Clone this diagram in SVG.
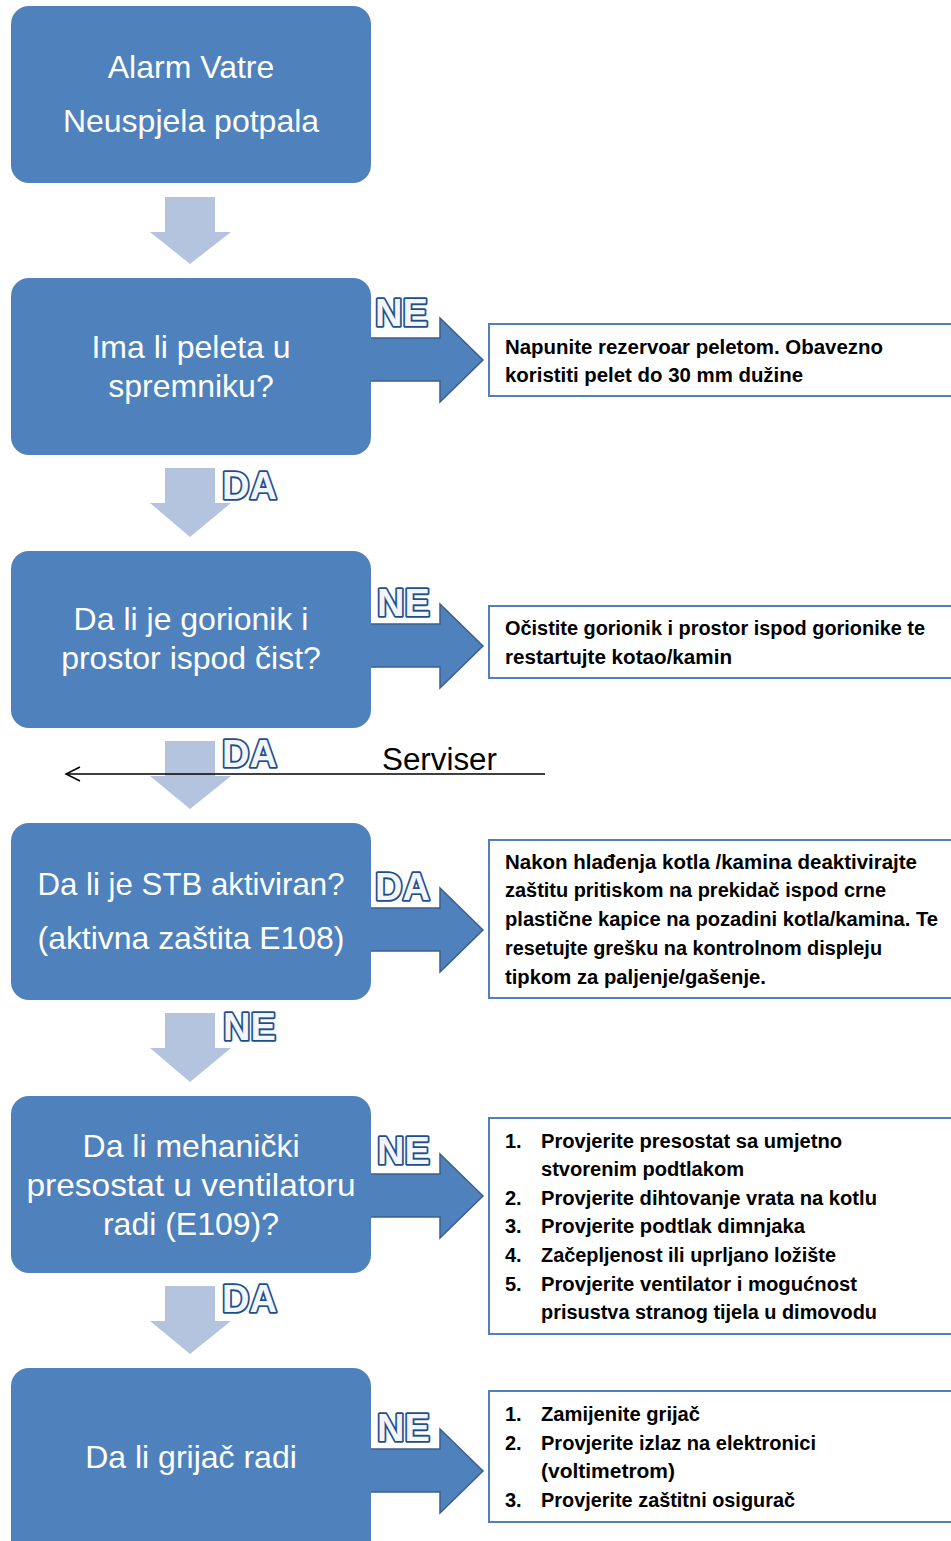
<svg xmlns="http://www.w3.org/2000/svg" width="951" height="1541" viewBox="0 0 951 1541">
<style>
.box{fill:#4F81BD}
.bt{font-family:"Liberation Sans",Arial,sans-serif;font-size:32px;fill:#fff;text-anchor:middle}
.down{fill:#B4C4DF}
.right{fill:#4F81BD;stroke:#3A5F8E;stroke-width:1.5}
.lbl{font-family:"Liberation Sans",Arial,sans-serif;font-weight:bold;font-size:38px;fill:#F2F5FA;stroke:#1F4E8C;stroke-width:3.6;stroke-linejoin:round;paint-order:stroke}
.tb{fill:#fff;stroke:#4F81BD;stroke-width:2}
.tt{font-family:"Liberation Sans",Arial,sans-serif;font-weight:bold;font-size:20px;fill:#000}
</style>
<rect width="951" height="1541" fill="#fff"/>

<g id="connectors">
  <path class="down" d="M165,197H215V232H231L190,264L150,232H165Z"/>
  <path class="down" d="M165,468H215V503H231L190,537L150,503H165Z"/>
  <path class="down" d="M165,741H215V776H231L190,809L150,776H165Z"/>
  <path class="down" d="M165,1013H215V1048H231L190,1082L150,1048H165Z"/>
  <path class="down" d="M165,1286H215V1321H231L190,1354L150,1321H165Z"/>
  <path class="right" d="M369,338H440V318L483,360L440,402V381H369Z"/>
  <path class="right" d="M369,624H440V604L483,646L440,688V667H369Z"/>
  <path class="right" d="M369,908H440V888L483,930L440,972V951H369Z"/>
  <path class="right" d="M369,1174H440V1154L483,1196L440,1238V1217H369Z"/>
  <path class="right" d="M369,1449H440V1429L483,1471L440,1513V1492H369Z"/>
  <g id="serviser">
    <line x1="66" y1="774" x2="545" y2="774" stroke="#000" stroke-width="1.5"/>
    <path d="M80,767L66,774L80,781" fill="none" stroke="#000" stroke-width="1.5"/>
    <text x="382" y="770" font-family="'Liberation Sans',Arial,sans-serif" font-size="31" fill="#000" textLength="115" lengthAdjust="spacingAndGlyphs">Serviser</text>
  </g>
  <text class="lbl" x="222" y="499">DA</text>
  <text class="lbl" x="222" y="767">DA</text>
  <text class="lbl" x="223" y="1040">NE</text>
  <text class="lbl" x="222" y="1312">DA</text>
  <text class="lbl" x="375" y="326">NE</text>
  <text class="lbl" x="377" y="616">NE</text>
  <text class="lbl" x="375" y="900">DA</text>
  <text class="lbl" x="377" y="1164">NE</text>
  <text class="lbl" x="377" y="1441">NE</text>
</g>

<g id="n1">
  <rect class="box" x="11" y="6" width="360" height="177" rx="18"/>
  <text class="bt" x="191" y="78">Alarm Vatre</text>
  <text class="bt" x="191" y="132">Neuspjela potpala</text>
</g>
<g id="n2">
  <rect class="box" x="11" y="278" width="360" height="177" rx="18"/>
  <text class="bt" x="191" y="358">Ima li peleta u</text>
  <text class="bt" x="191" y="397">spremniku?</text>
</g>
<g id="n3">
  <rect class="box" x="11" y="551" width="360" height="177" rx="18"/>
  <text class="bt" x="191" y="630">Da li je gorionik i</text>
  <text class="bt" x="191" y="669">prostor ispod čist?</text>
</g>
<g id="n4">
  <rect class="box" x="11" y="823" width="360" height="177" rx="18"/>
  <text class="bt" x="191" y="895" textLength="307" lengthAdjust="spacingAndGlyphs">Da li je STB aktiviran?</text>
  <text class="bt" x="191" y="949" textLength="307" lengthAdjust="spacingAndGlyphs">(aktivna zaštita E108)</text>
</g>
<g id="n5">
  <rect class="box" x="11" y="1096" width="360" height="177" rx="18"/>
  <text class="bt" x="191" y="1157">Da li mehanički</text>
  <text class="bt" x="191" y="1196" textLength="329" lengthAdjust="spacingAndGlyphs">presostat u ventilatoru</text>
  <text class="bt" x="191" y="1235">radi (E109)?</text>
</g>
<g id="n6">
  <rect class="box" x="11" y="1368" width="360" height="190" rx="18"/>
  <text class="bt" x="191" y="1468">Da li grijač radi</text>
</g>

<g id="t1">
  <rect class="tb" x="489" y="324" width="470" height="72"/>
  <text class="tt" x="505" y="354" textLength="378" lengthAdjust="spacingAndGlyphs">Napunite rezervoar peletom. Obavezno</text>
  <text class="tt" x="505" y="382" textLength="298" lengthAdjust="spacingAndGlyphs">koristiti pelet do 30 mm dužine</text>
</g>
<g id="t2">
  <rect class="tb" x="489" y="606" width="470" height="72"/>
  <text class="tt" x="505" y="635" textLength="420" lengthAdjust="spacingAndGlyphs">Očistite gorionik i prostor ispod gorionike te</text>
  <text class="tt" x="505" y="664" textLength="227" lengthAdjust="spacingAndGlyphs">restartujte kotao/kamin</text>
</g>
<g id="t3">
  <rect class="tb" x="489" y="840" width="470" height="158"/>
  <text class="tt" x="505" y="869" textLength="412" lengthAdjust="spacingAndGlyphs">Nakon hlađenja kotla /kamina deaktivirajte</text>
  <text class="tt" x="505" y="897" textLength="381" lengthAdjust="spacingAndGlyphs">zaštitu pritiskom na prekidač ispod crne</text>
  <text class="tt" x="505" y="926" textLength="433" lengthAdjust="spacingAndGlyphs">plastične kapice na pozadini kotla/kamina. Te</text>
  <text class="tt" x="505" y="955" textLength="377" lengthAdjust="spacingAndGlyphs">resetujte grešku na kontrolnom displeju</text>
  <text class="tt" x="505" y="984" textLength="261" lengthAdjust="spacingAndGlyphs">tipkom za paljenje/gašenje.</text>
</g>
<g id="t4">
  <rect class="tb" x="489" y="1118" width="470" height="216"/>
  <text class="tt" x="505" y="1148">1.</text>
  <text class="tt" x="541" y="1148" textLength="301" lengthAdjust="spacingAndGlyphs">Provjerite presostat sa umjetno</text>
  <text class="tt" x="541" y="1176" textLength="203" lengthAdjust="spacingAndGlyphs">stvorenim podtlakom</text>
  <text class="tt" x="505" y="1205">2.</text>
  <text class="tt" x="541" y="1205" textLength="336" lengthAdjust="spacingAndGlyphs">Provjerite dihtovanje vrata na kotlu</text>
  <text class="tt" x="505" y="1233">3.</text>
  <text class="tt" x="541" y="1233" textLength="264" lengthAdjust="spacingAndGlyphs">Provjerite podtlak dimnjaka</text>
  <text class="tt" x="505" y="1262">4.</text>
  <text class="tt" x="541" y="1262" textLength="295" lengthAdjust="spacingAndGlyphs">Začepljenost ili uprljano ložište</text>
  <text class="tt" x="505" y="1291">5.</text>
  <text class="tt" x="541" y="1291" textLength="316" lengthAdjust="spacingAndGlyphs">Provjerite ventilator i mogućnost</text>
  <text class="tt" x="541" y="1319" textLength="336" lengthAdjust="spacingAndGlyphs">prisustva stranog tijela u dimovodu</text>
</g>
<g id="t5">
  <rect class="tb" x="489" y="1391" width="470" height="131"/>
  <text class="tt" x="505" y="1421">1.</text>
  <text class="tt" x="541" y="1421" textLength="159" lengthAdjust="spacingAndGlyphs">Zamijenite grijač</text>
  <text class="tt" x="505" y="1450">2.</text>
  <text class="tt" x="541" y="1450" textLength="275" lengthAdjust="spacingAndGlyphs">Provjerite izlaz na elektronici</text>
  <text class="tt" x="541" y="1478" textLength="134" lengthAdjust="spacingAndGlyphs">(voltimetrom)</text>
  <text class="tt" x="505" y="1507">3.</text>
  <text class="tt" x="541" y="1507" textLength="254" lengthAdjust="spacingAndGlyphs">Provjerite zaštitni osigurač</text>
</g>
</svg>
